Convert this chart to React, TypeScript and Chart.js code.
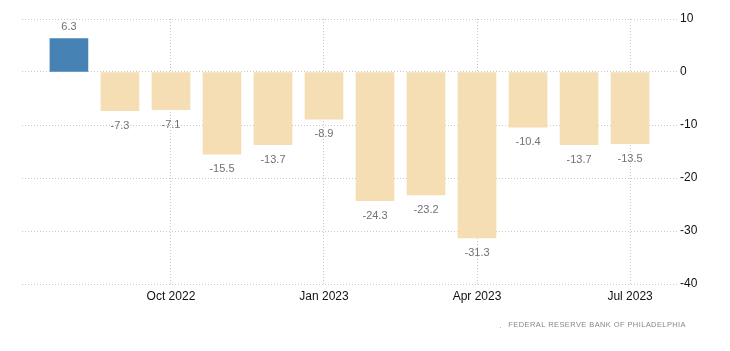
import React, { useEffect, useRef } from "react";
import { Chart, registerables } from "chart.js";

Chart.register(...registerables);

const months = ["Aug 2022", "Sep 2022", "Oct 2022", "Nov 2022", "Dec 2022", "Jan 2023", "Feb 2023", "Mar 2023", "Apr 2023", "May 2023", "Jun 2023", "Jul 2023"];
const values = [6.3, -7.3, -7.1, -15.5, -13.7, -8.9, -24.3, -23.2, -31.3, -10.4, -13.7, -13.5];
const xTickLabels = ["Oct 2022", "Jan 2023", "Apr 2023", "Jul 2023"];
const yTicks = [10, 0, -10, -20, -30, -40];
const sourceText = "FEDERAL RESERVE BANK OF PHILADELPHIA";

const FONT = "'Liberation Sans', Arial, sans-serif";

const labelPlugin = {
  id: "valueLabels",
  afterDatasetsDraw(chart: any) {
    const { ctx } = chart;
    const meta = chart.getDatasetMeta(0);
    ctx.save();
    ctx.font = `11px ${FONT}`;
    ctx.fillStyle = "#707078";
    ctx.textAlign = "center";
    ctx.textBaseline = "middle";
    meta.data.forEach((bar: any, i: number) => {
      const v = values[i];
      const y = v >= 0 ? bar.y - 12 : bar.y + 15;
      ctx.fillText(v.toFixed(1), bar.x, y);
    });
    ctx.font = `7.5px ${FONT}`;
    (ctx as any).letterSpacing = "0.4px";
    ctx.fillStyle = "#888";
    ctx.textAlign = "right";
    ctx.fillText(sourceText, 686, 325);
    ctx.fillText(".", 502, 326);
    ctx.restore();
  },
};

export default function App() {
  const ref = useRef<HTMLCanvasElement>(null);
  useEffect(() => {
    document.body.style.margin = "0";
    const data = values.map((v, i) => ({ x: i, y: v }));
    const chart = new Chart(ref.current!, {
      type: "bar",
      data: {
        labels: months,
        datasets: [
          {
            data: data as any,
            backgroundColor: values.map((v) => (v >= 0 ? "#4682B4" : "#F5DEB3")),
            barThickness: 38,
          },
        ],
      },
      options: {
        animation: false,
        responsive: false,
        maintainAspectRatio: false,
        layout: { padding: { left: 22, top: 19, right: 0, bottom: 0 } },
        plugins: { legend: { display: false }, tooltip: { enabled: false } },
        scales: {
          x: {
            type: "linear",
            min: -0.92,
            max: 11.92,
            offset: false,
            afterBuildTicks: (scale: any) => {
              scale.ticks = xTickLabels.map((l) => ({ value: months.indexOf(l) }));
            },
            afterFit: (scale: any) => {
              scale.height = 67;
            },
            ticks: {
              autoSkip: false,
              maxRotation: 0,
              padding: 5,
              color: "#111",
              font: { family: FONT, size: 12 },
              callback: (v: any) => months[v as number],
            },
            grid: { color: "#c8c8c8", drawTicks: false, offset: false } as any,
            border: { display: false, dash: [1, 2] },
          },
          y: {
            position: "right",
            min: -40,
            max: 10,
            afterBuildTicks: (scale: any) => {
              scale.ticks = yTicks.map((v) => ({ value: v }));
            },
            afterFit: (scale: any) => {
              scale.width = 53;
            },
            ticks: {
              padding: 3,
              color: "#111",
              font: { family: FONT, size: 12 },
            },
            grid: { color: "#c8c8c8", drawTicks: false } as any,
            border: { display: false, dash: [1, 2] },
          },
        },
      },
      plugins: [labelPlugin],
    });
    return () => chart.destroy();
  }, []);
  return (
    <div style={{ position: "absolute", left: 0, top: 0, width: 730, height: 351 }}>
      <canvas ref={ref} width={730} height={351} style={{ width: 730, height: 351 }} />
    </div>
  );
}
